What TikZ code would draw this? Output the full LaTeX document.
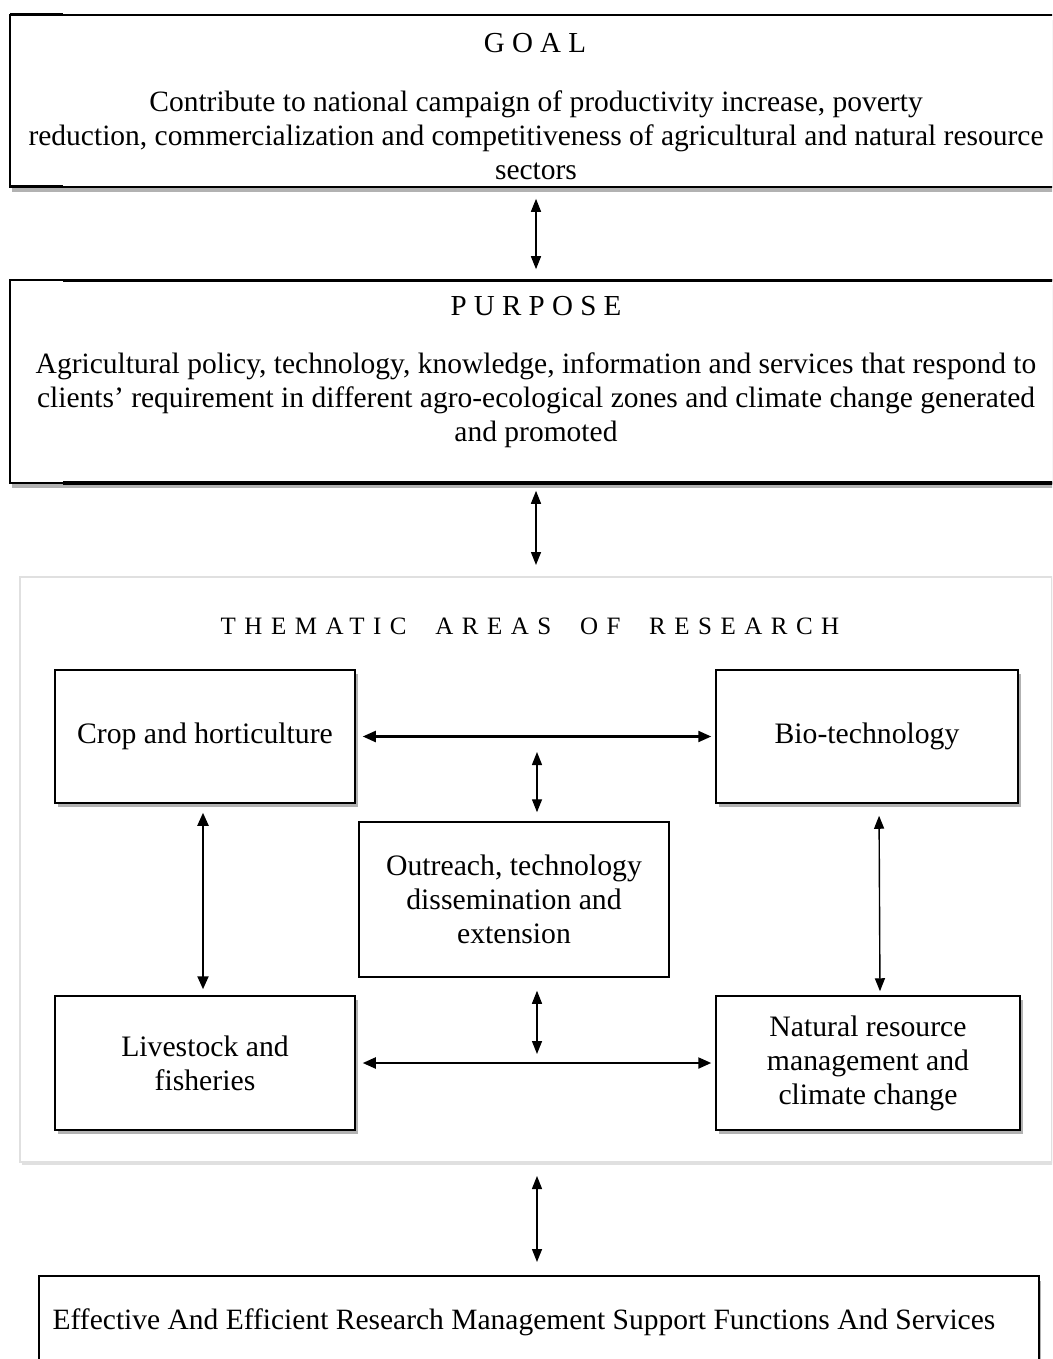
\documentclass[tikz,border=0pt]{standalone}
\usepackage{fontspec}
\setmainfont{Liberation Serif}
\usetikzlibrary{arrows.meta,shadows,calc}
\begin{document}
\begin{tikzpicture}[x=1pt,y=-1pt,
  arr/.style={{Triangle[length=13pt,width=10pt]}-{Triangle[length=13pt,width=10pt]}, line width=1.4pt},
  harr/.style={{Triangle[length=13pt,width=11pt]}-{Triangle[length=13pt,width=11pt]}, line width=2.2pt},
  widebox/.style={draw=black, line width=1.6pt, fill=white, inner sep=0pt,
    drop shadow={shadow xshift=2pt, shadow yshift=-5pt, opacity=0.3, fill=black}},
  themebox/.style={draw=black, line width=1.5pt, fill=white, inner sep=0pt,
    font=\fontsize{29.7}{34}\selectfont, align=center,
    drop shadow={shadow xshift=3pt, shadow yshift=-4pt, opacity=0.3, fill=black}},
  plainbox/.style={draw=black, line width=1.5pt, fill=white, inner sep=0pt,
    font=\fontsize{29.7}{34}\selectfont, align=center},
  outerbox/.style={draw=black!12, line width=2pt, fill=white, inner sep=0pt,
    drop shadow={shadow xshift=2pt, shadow yshift=-3pt, opacity=0.12, fill=black}},
  titletxt/.style={font=\fontsize{29}{34}\selectfont, inner sep=0pt},
  bodytxt/.style={font=\fontsize{29.5}{34}\selectfont, align=center, inner sep=0pt},
]
\useasboundingbox (0,0) rectangle (1052,1359);
\clip (0,0) rectangle (1052,1359);
\fill[white] (0,0) rectangle (1052,1359);

% GOAL
\node[widebox, minimum width=1052pt, minimum height=172pt] (goal) at (536,101) {};
\draw[line width=3pt] (10,15) -- (63,15);
\draw[line width=3pt] (10,187) -- (63,187);
\node[titletxt] (goalt) at (535,43) {G O A L};
\node[bodytxt] (goalx) at (536,135) {Contribute to national campaign of productivity increase, poverty\\reduction, commercialization and competitiveness of agricultural and natural resource\\sectors};

% PURPOSE
\node[widebox, minimum width=1052pt, minimum height=203pt] (purpose) at (536,381.5) {};
\draw[line width=3pt] (63,280) -- (1062,280);
\draw[line width=3.5pt] (63,483) -- (1062,483);
\node[titletxt] (purposet) at (536,306) {P U R P O S E};
\node[bodytxt] (purposex) at (536,400) {Agricultural policy, technology, knowledge, information and services that respond to\\clients’ requirement in different agro-ecological zones and climate change generated\\and promoted};

% THEMATIC AREAS
\node[outerbox, minimum width=1032pt, minimum height=585pt] (theme) at (536,869.5) {};
\node[inner sep=0pt, font=\fontsize{25}{28}\selectfont\addfontfeature{LetterSpace=34}] (themet) at (530,626) {THEMATIC\hspace{14pt} AREAS\hspace{14pt} OF\hspace{14pt} RESEARCH};

\node[themebox, minimum width=300pt, minimum height=133pt] (crop) at (205,736.5) {Crop and horticulture};
\node[themebox, minimum width=302pt, minimum height=133pt] (bio) at (867,736.5) {Bio-technology};
\node[plainbox, minimum width=310pt, minimum height=155pt] (outreach) at (514,899.5) {Outreach, technology\\dissemination and\\extension};
\node[themebox, minimum width=300pt, minimum height=134pt] (live) at (205,1063) {Livestock and\\fisheries};
\node[themebox, minimum width=304pt, minimum height=134pt] (nat) at (868,1063) {Natural resource\\management and\\climate change};

% BOTTOM
\node[widebox, minimum width=1000pt, minimum height=120pt, anchor=north west] (support) at (38,1275) {};
\node[bodytxt] (supportx) at (524,1322) {Effective And Efficient Research Management Support Functions And Services};

% connectors
\draw[arr, shorten <=11pt, shorten >=10pt] (goal.south) -- (purpose.north);
\draw[arr, shorten <=7pt, shorten >=11pt] (purpose.south) -- (theme.north);
\draw[arr, shorten <=13pt, shorten >=13pt] ([xshift=1pt]theme.south) -- ([xshift=1pt]theme.south |- support.north);

\draw[harr, shorten <=7pt, shorten >=4pt] (crop.east) -- (bio.west);
\draw[harr, shorten <=7pt, shorten >=4pt] (live.east) -- (nat.west);
\draw[harr, shorten <=9pt, shorten >=6pt] ([xshift=-2pt]crop.south) -- ([xshift=-2pt]live.north);
\draw[arr, shorten <=12pt, shorten >=4pt] ([xshift=12pt]bio.south) -- ([xshift=12pt]nat.north);

\coordinate (midtop) at (537,738);
\coordinate (midbot) at (537,1063);
\draw[arr, shorten <=14pt, shorten >=9pt] (midtop) -- (outreach.north -| midtop);
\draw[arr, shorten <=13pt, shorten >=9pt] (outreach.south -| midbot) -- (midbot);
\end{tikzpicture}
\end{document}
